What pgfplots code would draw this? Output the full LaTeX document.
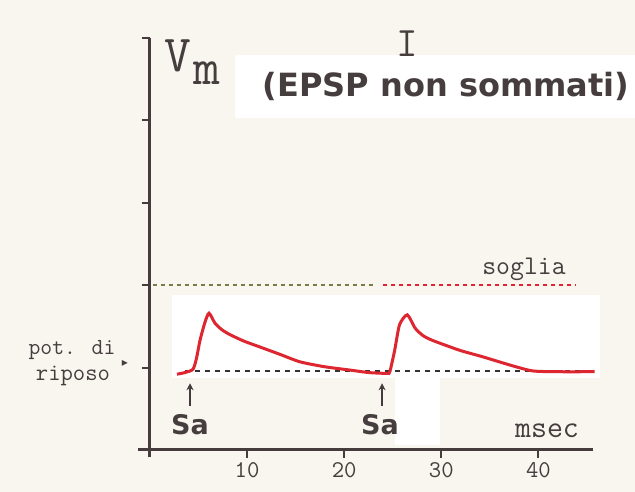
\documentclass[border=0pt]{standalone}
\usepackage{pgfplots}
\pgfplotsset{compat=1.18}
\usepackage{fontspec}
\usetikzlibrary{arrows.meta}
\newfontfamily\bsans{DejaVu Sans}
\definecolor{bgcol}{RGB}{249,245,239}
\definecolor{axcol}{RGB}{70,60,62}
\definecolor{curvecol}{RGB}{222,38,48}
\definecolor{olive}{RGB}{120,125,70}
\definecolor{txtcol}{RGB}{70,62,62}
\begin{document}
\begin{tikzpicture}
\fill[bgcol] (-150pt,-42pt) rectangle (485pt,450pt);
\fill[white] (85pt,332pt) rectangle (485pt,395pt);
\fill[white] (22pt,72pt) rectangle (450pt,155pt);
\fill[white] (245pt,5pt) rectangle (290pt,75pt);
\begin{axis}[
  anchor=origin, at={(0pt,0pt)},
  scale only axis, width=454.4pt, height=419.4pt,
  xmin=-1.2, xmax=45.6, ymin=-0.09, ymax=5.0,
  axis lines=middle,
  axis line style={-, line width=3pt, color=axcol},
  xtick={10,20,30,40}, ytick={1,2,3,4,5}, yticklabels={},
  tick align=outside, major tick length=8pt,
  tick style={line width=2pt, color=axcol},
  /pgf/number format/assume math mode=true,
  xticklabel style={font=\ttfamily\fontsize{24}{24}\selectfont, text=txtcol, yshift=-1pt},
  clip=false,
]
% threshold (soglia)
\addplot[olive, line width=1.5pt, dash pattern=on 4pt off 4pt] coordinates {(0.3,2.0) (23.2,2.0)};
\addplot[curvecol, line width=1.5pt, dash pattern=on 4pt off 4pt] coordinates {(24.0,2.0) (43.8,2.0)};
% resting potential
\addplot[black!80, line width=1.5pt, dash pattern=on 5pt off 5pt] coordinates {(3.6,0.96) (45.3,0.96)};
% membrane potential
\addplot[curvecol, line width=3pt, smooth, tension=0.4] coordinates {
(2.78,0.92) (3.6,0.94) (4.43,0.98) (4.8,1.12) (5.15,1.33) (5.66,1.55) (6.08,1.66)
(6.69,1.54) (7.4,1.46) (8.24,1.40) (9.7,1.32) (11.33,1.25) (13.4,1.16) (15.45,1.07)
(18.0,1.01) (20.6,0.97) (22.5,0.94) (24.4,0.93) (24.7,0.95) (25.2,1.21) (25.7,1.52)
(26.5,1.64) (27.3,1.48) (28.1,1.39) (29.1,1.33) (31.9,1.21) (34.3,1.13) (37.1,1.03)
(39.4,0.96) (42.0,0.95) (45.8,0.95)};
% stimulus arrows
\draw[axcol, line width=1.5pt, -{Stealth[length=7pt,width=7pt]}] (axis cs:4.12,0.53) -- (axis cs:4.12,0.81);
\draw[axcol, line width=1.5pt, -{Stealth[length=7pt,width=7pt]}] (axis cs:23.9,0.53) -- (axis cs:23.9,0.81);
\end{axis}
% texts
\node[anchor=base, text=txtcol, font=\ttfamily\fontsize{52}{52}\selectfont, inner sep=0pt] at (28pt,378pt) {V};
\node[anchor=base, text=txtcol, font=\ttfamily\fontsize{52}{52}\selectfont, inner sep=0pt] at (57pt,365pt) {m};
\node[anchor=base, text=txtcol, font=\ttfamily\fontsize{42}{42}\selectfont, inner sep=0pt] at (257pt,393pt) {I};
\node[anchor=base, text=txtcol, font=\bsans\bfseries\fontsize{32}{32}\selectfont, inner sep=0pt] at (296pt,353pt) {(EPSP non sommati)};
\node[anchor=base, text=txtcol, font=\ttfamily\fontsize{27}{27}\selectfont, inner sep=0pt] at (374pt,175pt) {soglia};
\node[anchor=base, text=txtcol, font=\ttfamily\fontsize{23}{23}\selectfont, inner sep=0pt] at (-78pt,95pt) {pot. di};
\node[anchor=base, text=txtcol, font=\ttfamily\fontsize{24}{24}\selectfont, inner sep=0pt] at (-77pt,69pt) {riposo};
\node[anchor=center, text=axcol, font=\bsans\fontsize{12}{12}\selectfont, inner sep=0pt] at (-25pt,87pt) {▸};
\node[anchor=base, text=txtcol, font=\bsans\bfseries\fontsize{27}{27}\selectfont, inner sep=0pt] at (40pt,15pt) {Sa};
\node[anchor=base, text=txtcol, font=\bsans\bfseries\fontsize{27}{27}\selectfont, inner sep=0pt] at (230pt,15pt) {Sa};
\node[anchor=base, text=txtcol, font=\ttfamily\fontsize{31}{31}\selectfont, inner sep=0pt] at (397pt,12pt) {msec};
\pgfresetboundingbox
\path (-150pt,-42pt) rectangle (485pt,450pt);
\end{tikzpicture}
\end{document}
